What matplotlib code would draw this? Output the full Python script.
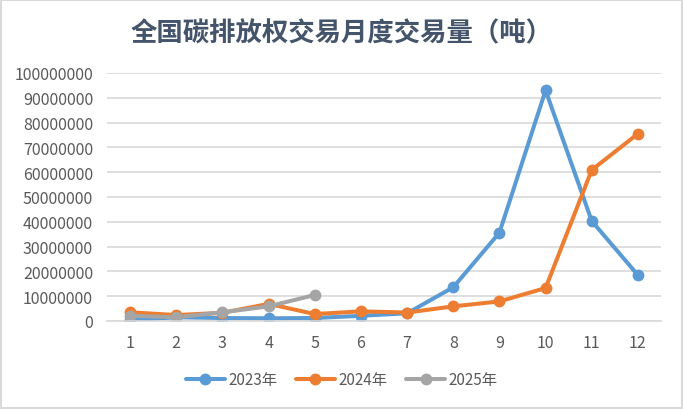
import matplotlib
matplotlib.use("Agg")
import matplotlib.pyplot as plt
from matplotlib.patches import Rectangle

months = list(range(1, 13))
month_labels = [str(m) for m in months]
s2023 = [300000, 1500000, 1200000, 1100000, 1200000, 2100000, 3100000,
         13600000, 35600000, 93000000, 40300000, 18500000]
s2024 = [3500000, 2400000, 3300000, 6900000, 2800000, 3900000, 3400000,
         5900000, 7900000, 13300000, 60900000, 75500000]
s2025 = [2100000, 1500000, 3500000, 5900000, 10500000]
series_names = ["2023年", "2024年", "2025年"]
colors = ["#5B9BD5", "#ED7D31", "#A5A5A5"]
yticks = list(range(0, 100000001, 10000000))
title = "全国碳排放权交易月度交易量（吨）"

plt.rcParams['font.family'] = ['Noto Sans CJK SC', 'DejaVu Sans']

fig = plt.figure(figsize=(6.83, 4.10), dpi=100)
ax = fig.add_axes([107/683, 1-322/410, (661-107)/683, (322-74)/410])

for data, name, c in zip([s2023, s2024, s2025], series_names, colors):
    ax.plot(months[:len(data)], data, color=c, lw=2.9, marker='o', ms=7.5,
            label=name, solid_capstyle='round')

ax.set_xlim(0.5, 12.5)
ax.set_ylim(0, 100000000)
ax.set_yticks(yticks)
ax.set_yticklabels([str(v) for v in yticks])
ax.set_xticks(months)
ax.set_xticklabels(month_labels)
ax.tick_params(axis='both', length=0, labelsize=11.5, colors='#595959')
ax.tick_params(axis='x', pad=9)
ax.tick_params(axis='y', pad=10)
ax.grid(axis='y', color='#D9D9D9', lw=1.2)
ax.set_axisbelow(True)
for s in ['top', 'right', 'left']:
    ax.spines[s].set_visible(False)
ax.spines['bottom'].set_color('#D9D9D9')
ax.spines['bottom'].set_linewidth(1.2)

fig.text(0.5, 1-34/410, title, ha='center', va='center', fontsize=19,
         fontweight='bold', color='#44546A')

leg = fig.legend(loc='center', bbox_to_anchor=(0.5, 1-381/410), ncol=3,
                 frameon=False, fontsize=11, handlelength=2.6,
                 columnspacing=1.2, handletextpad=0.2)
for t in leg.get_texts():
    t.set_color('#595959')

fig.patches.append(Rectangle((0.002, 0.003), 0.996, 0.994, transform=fig.transFigure,
                             fill=False, edgecolor='#D9D9D9', lw=1.5))

fig.savefig("out.png", dpi=100, facecolor='white')
